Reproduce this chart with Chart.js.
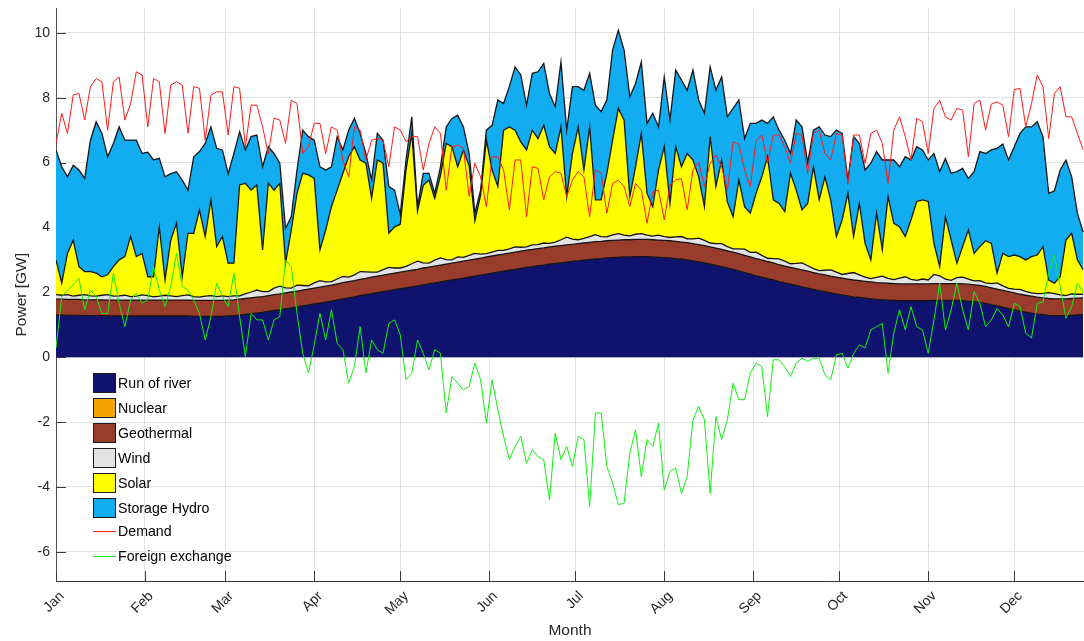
<!DOCTYPE html>
<html><head><meta charset="utf-8">
<script src="https://cdn.jsdelivr.net/npm/chart.js@4.4.1/dist/chart.umd.min.js"></script>
<style>
html,body{margin:0;padding:0;background:#fff;}
#wrap{position:relative;width:1084px;height:641px;overflow:hidden;}
#legend{position:absolute;left:93px;top:373px;font-family:'Liberation Sans',Arial,Helvetica,sans-serif;font-size:14.2px;color:#000;}
.row{position:absolute;left:0;height:20px;display:flex;align-items:center;white-space:nowrap;}
.sw{width:23px;height:20px;border:1px solid #1a1a1a;box-sizing:border-box;margin-right:2px;flex:none;}
.ln{width:23px;height:1px;margin-right:2px;flex:none;}
</style></head>
<body><div id="wrap">
<canvas id="c" width="1084" height="641"></canvas>
<div id="legend">
<div class="row" style="top:0px"><div class="sw" style="background:#10136e"></div>Run of river</div>
<div class="row" style="top:25px"><div class="sw" style="background:#f5a300"></div>Nuclear</div>
<div class="row" style="top:50px"><div class="sw" style="background:#9a3c2b"></div>Geothermal</div>
<div class="row" style="top:75px"><div class="sw" style="background:#e3e3e3"></div>Wind</div>
<div class="row" style="top:100px"><div class="sw" style="background:#ffff00"></div>Solar</div>
<div class="row" style="top:125px"><div class="sw" style="background:#11adf0"></div>Storage Hydro</div>
<div class="row" style="top:148px"><div class="ln" style="background:#ff1a1a"></div>Demand</div>
<div class="row" style="top:173px"><div class="ln" style="background:#10f010"></div>Foreign exchange</div>
</div>
</div>
<script>
const monthStarts = [0,31,59,90,120,151,181,212,243,273,304,334];
const monthLabels = ['Jan','Feb','Mar','Apr','May','Jun','Jul','Aug','Sep','Oct','Nov','Dec'];
const yTicks = [-6,-4,-2,0,2,4,6,8,10];
const days = []; for (let d = 0; d <= 358; d += 2) days.push(d);

const runOfRiver = [
1.30,1.30,1.29,1.29,1.29,1.28,1.28,1.28,1.28,1.27,1.27,1.27,1.27,1.27,1.27,1.27,1.27,1.27,1.27,1.27,1.27,1.27,1.27,1.27,1.26,1.26,1.26,1.26,1.26,1.26,
1.27,1.28,1.30,1.32,1.34,1.36,1.38,1.41,1.44,1.46,1.49,1.52,1.55,1.58,1.61,1.64,1.67,1.70,1.73,1.77,1.80,1.83,1.86,1.90,1.93,1.96,1.99,2.02,2.05,2.08,
2.11,2.14,2.17,2.20,2.23,2.26,2.29,2.32,2.35,2.38,2.41,2.44,2.47,2.50,2.53,2.56,2.59,2.62,2.65,2.68,2.71,2.74,2.77,2.79,2.82,2.84,2.87,2.89,2.91,2.93,
2.95,2.97,2.99,3.01,3.03,3.04,3.06,3.07,3.08,3.09,3.09,3.10,3.10,3.10,3.09,3.08,3.07,3.06,3.04,3.02,3.00,2.97,2.94,2.91,2.87,2.83,2.79,2.75,2.71,2.66,
2.61,2.56,2.51,2.47,2.42,2.38,2.33,2.29,2.25,2.21,2.17,2.13,2.09,2.05,2.02,1.98,1.95,1.92,1.89,1.86,1.84,1.82,1.80,1.78,1.77,1.76,1.75,1.74,1.74,1.74,
1.74,1.74,1.74,1.75,1.75,1.75,1.75,1.75,1.74,1.73,1.71,1.69,1.66,1.62,1.58,1.54,1.50,1.46,1.42,1.39,1.36,1.33,1.31,1.29,1.28,1.28,1.28,1.29,1.30,1.31];

const nuclear = days.map(() => 0);

const geothermal = [
0.49,0.49,0.49,0.49,0.49,0.49,0.49,0.49,0.49,0.49,0.49,0.49,0.49,0.49,0.49,0.49,0.49,0.49,0.49,0.49,0.49,0.49,0.49,0.49,0.49,
0.49,0.49,0.49,0.49,0.49,0.49,0.49,0.49,0.49,0.49,0.49,0.49,0.49,0.49,0.49,0.49,0.49,0.49,0.49,0.49,0.49,0.49,0.49,0.49,0.49,
0.50,0.50,0.50,0.50,0.50,0.51,0.51,0.51,0.51,0.51,0.51,0.51,0.51,0.51,
0.52,0.52,0.52,0.52,0.52,0.52,0.52,0.52,0.52,0.52,0.52,
0.53,0.53,0.53,0.53,0.53,0.53,0.53,0.53,0.53,0.53,0.53,0.53,0.53,0.53,0.53,0.53,0.53,0.53,0.53,0.53,0.53,0.53,0.53,0.53,0.53,0.53,
0.53,0.53,0.53,0.53,0.53,0.53,0.53,0.53,0.53,0.53,0.53,0.53,0.53,0.53,0.53,0.53,0.53,0.53,0.53,0.53,0.53,0.53,0.53,0.53,0.53,
0.52,0.52,0.52,0.52,0.52,0.52,0.52,0.52,0.52,0.52,0.52,0.52,0.52,0.52,0.52,0.52,0.52,0.52,0.52,0.52,0.52,0.52,0.52,0.52,0.52,0.52,0.52,
0.52,0.52,0.52,0.52,0.52,0.52,0.52,0.52,0.52,0.52,0.52,0.52,0.52,0.52,0.52,0.52,0.52,0.52,0.52,0.52,0.52,0.52,0.52,0.52,0.52,0.52,0.52];

const wind = [
0.14,0.12,0.15,0.10,0.13,0.16,0.12,0.11,0.14,0.17,0.12,0.13,0.15,0.11,0.12,0.16,0.14,0.10,0.12,0.15,0.13,0.11,0.14,0.16,0.12,0.10,0.13,0.15,0.12,0.14,0.11,
0.12,0.10,0.14,0.18,0.22,0.15,0.12,0.20,0.24,0.16,0.12,0.18,0.14,0.10,0.16,0.20,0.13,0.11,0.15,0.19,0.14,0.18,0.24,0.20,0.15,0.12,0.17,0.21,0.16,0.13,
0.15,0.20,0.25,0.16,0.12,0.18,0.22,0.14,0.10,0.16,0.12,0.15,0.18,0.13,0.10,0.12,0.14,0.11,0.13,0.16,0.12,0.10,0.14,0.12,0.15,0.11,0.13,0.18,0.24,0.16,0.12,
0.14,0.18,0.22,0.15,0.12,0.17,0.20,0.14,0.12,0.16,0.18,0.13,0.11,0.15,0.12,0.10,0.14,0.17,0.12,0.15,0.20,0.16,0.12,0.14,0.18,0.13,0.10,0.15,0.19,0.14,
0.20,0.14,0.10,0.13,0.18,0.15,0.11,0.16,0.22,0.17,0.12,0.10,0.14,0.19,0.15,0.11,0.17,0.23,0.18,0.13,0.10,0.16,0.21,0.15,0.12,0.18,0.22,0.14,0.11,0.15,0.12,
0.28,0.24,0.14,0.10,0.18,0.21,0.16,0.12,0.15,0.11,0.13,0.19,0.14,0.10,0.12,0.15,0.12,0.10,0.11,0.14,0.18,0.16,0.12,0.10,0.14,0.12,0.11];

const solar = [
1.07,0.37,1.27,1.73,0.88,0.71,0.75,0.71,0.57,0.61,0.91,1.11,1.19,1.85,1.22,1.28,0.58,0.62,2.14,0.47,1.72,2.26,0.58,1.90,1.95,2.69,1.84,2.95,1.54,1.83,1.03,
1.01,3.42,3.41,3.14,3.24,1.29,3.34,3.02,3.17,0.76,1.79,2.83,3.46,3.42,3.22,0.95,1.60,2.31,2.74,3.18,3.71,3.95,3.44,3.35,2.28,3.46,3.28,1.05,1.27,1.35,
2.97,4.02,1.54,2.39,2.56,1.91,2.54,3.58,3.49,2.78,3.31,2.76,1.00,1.82,3.51,2.53,1.97,3.71,3.76,3.60,3.25,2.99,3.54,3.27,3.63,2.98,2.73,3.48,1.25,2.64,3.48,
2.11,3.38,1.07,1.13,1.96,2.92,3.86,3.55,1.21,2.08,3.09,1.29,0.91,2.01,2.77,1.05,2.78,2.15,2.63,2.43,1.89,1.04,3.28,1.76,2.58,1.38,0.99,2.12,1.31,1.21,
1.81,2.42,3.13,1.81,1.71,1.53,2.79,2.26,1.63,1.92,3.14,2.18,2.88,2.16,1.10,1.68,2.47,1.11,2.20,1.04,0.58,1.98,0.81,2.52,1.74,1.58,1.24,1.83,2.43,2.44,2.42,
0.96,0.28,1.92,1.24,0.45,0.94,1.51,0.85,1.05,1.30,1.24,0.30,1.00,0.98,1.05,1.01,0.97,1.12,1.19,1.44,0.39,0.32,0.56,1.71,1.87,1.06,0.76];

const storageHydro = [
3.39,3.59,2.36,2.31,2.98,2.87,4.05,4.67,4.42,3.64,3.80,4.10,3.59,2.97,3.59,3.08,3.84,3.60,2.11,3.18,2.05,1.59,2.98,1.33,2.36,1.80,2.87,2.25,3.03,2.67,2.76,
3.38,1.64,1.03,1.65,1.54,2.56,1.13,1.13,0.62,1.07,0.41,0.72,1.33,1.18,1.18,2.56,1.85,1.23,1.65,0.72,0.82,0.87,0.82,0.30,0.56,0.82,0.71,1.44,1.13,0.30,
0.31,0.51,0.14,0.37,0.21,0.15,0.27,0.51,0.87,1.59,0.71,0.38,0.24,0.15,0.30,1.38,2.67,0.82,1.24,1.95,2.06,1.38,1.75,2.06,1.91,1.64,1.44,2.00,2.05,2.06,1.24,
2.46,1.65,2.92,2.72,2.26,2.78,2.41,2.16,3.08,2.57,2.20,2.16,2.88,1.33,2.15,2.57,2.36,2.67,1.95,2.77,2.37,2.88,2.15,2.97,2.56,2.62,3.34,2.47,2.10,2.77,
2.16,1.75,1.03,2.56,2.26,2.20,0.61,2.16,2.56,1.26,1.13,2.25,1.29,1.95,3.28,2.67,0.41,3.08,1.85,2.26,2.98,1.90,2.77,1.13,1.95,1.85,2.46,1.85,1.69,1.54,1.28,
2.77,2.93,1.80,2.06,2.82,2.41,1.59,2.52,2.93,2.69,2.88,3.85,3.37,2.98,3.34,3.80,4.10,4.00,4.11,3.39,2.67,2.85,3.29,2.47,1.74,1.44,1.15];

const demand = [
6.59,7.52,6.90,8.08,8.13,7.31,8.34,8.59,8.49,7.00,8.49,8.64,7.31,7.82,8.80,8.70,7.10,8.59,8.49,6.90,8.39,8.49,8.39,6.90,8.34,8.29,6.70,8.08,8.18,8.18,6.85,
8.34,8.29,6.49,7.77,7.77,7.10,6.28,7.37,7.31,6.59,7.92,7.82,6.28,6.49,7.21,7.21,6.28,7.10,7.00,6.08,5.56,7.10,7.00,6.08,6.69,6.74,6.69,5.87,7.10,7.00,
6.64,6.80,6.80,5.77,6.59,7.10,6.90,5.15,6.49,6.54,6.44,4.95,5.98,5.56,4.64,6.18,6.18,5.77,4.54,6.08,6.08,4.33,5.87,5.82,4.85,5.56,5.72,5.67,4.95,5.46,5.72,
5.56,4.33,5.77,5.67,4.44,5.36,5.46,5.26,4.64,5.36,5.15,4.13,5.10,5.15,4.23,5.31,5.46,5.51,4.54,5.77,6.00,5.26,5.98,6.23,5.87,5.15,6.64,6.57,5.77,5.26,
6.67,6.85,5.98,6.85,6.85,6.49,5.98,6.90,6.85,5.67,6.90,7.00,6.28,6.08,6.90,6.85,5.36,6.85,6.85,5.98,6.90,7.00,6.59,5.36,7.00,7.41,6.80,6.08,7.36,7.26,6.28,
7.67,7.92,7.41,7.31,7.67,7.62,6.18,7.82,7.93,7.00,7.80,7.87,7.77,6.80,8.25,8.29,7.10,7.82,8.70,8.34,6.74,8.13,8.34,7.41,7.41,6.90,6.40];

const foreignExchange = [
0.28,1.87,2.07,2.23,2.43,1.46,2.07,1.87,1.35,1.35,2.59,1.66,0.94,1.77,1.97,1.66,1.77,2.79,2.07,1.56,2.18,3.20,2.18,2.07,1.77,1.35,0.53,1.25,2.28,1.87,1.56,
2.59,1.25,0.02,1.35,1.15,1.15,0.53,1.15,1.25,3.00,2.79,1.35,0.12,-0.49,0.38,1.35,0.53,1.46,0.43,0.23,-0.80,-0.29,0.94,-0.49,0.53,0.23,0.12,1.04,1.15,0.69,
-0.70,-0.49,0.53,0.12,-0.39,0.23,0.12,-1.72,-0.60,-0.80,-1.01,-0.90,-0.18,-0.70,-2.03,-0.70,-1.62,-2.44,-3.16,-2.75,-2.44,-3.27,-2.85,-3.06,-3.16,-4.40,-2.34,-3.16,-2.75,-3.37,-2.44,
-2.54,-4.60,-1.72,-1.72,-3.37,-3.88,-4.55,-4.50,-2.96,-2.24,-3.68,-2.54,-2.75,-2.03,-4.10,-3.52,-3.42,-4.20,-3.68,-1.93,-1.52,-1.93,-4.20,-1.83,-2.54,-1.93,-0.80,-1.31,-1.31,-0.49,
-0.18,-0.29,-1.83,-0.08,-0.08,-0.29,-0.60,-0.18,-0.03,-0.13,-0.03,-0.03,-0.54,-0.70,0.07,0.12,-0.34,0.12,0.38,0.28,0.84,0.94,1.04,-0.49,0.74,1.46,0.84,1.56,0.94,0.84,0.12,
1.15,2.28,0.84,1.46,2.28,1.46,0.84,2.02,1.66,0.94,1.15,1.50,1.30,0.94,1.66,1.56,0.74,0.59,1.66,1.70,2.59,3.15,2.18,1.20,1.56,2.28,2.00];

const FONT = "'Liberation Sans', Arial, Helvetica, sans-serif";
Chart.defaults.font.family = FONT;
Chart.defaults.color = '#262626';

function area(label, data, color, fill, bw) {
  return {label, data, backgroundColor: color, borderColor: '#151515', borderWidth: bw,
    fill, stack: 'gen', order: 10, pointRadius: 0, tension: 0};
}

const inwardTicks = {
  id: 'inwardTicks',
  beforeDatasetsDraw(chart) {
    const {ctx, chartArea: a, scales: {x, y}} = chart;
    ctx.save();
    ctx.strokeStyle = '#3a3a3a'; ctx.lineWidth = 1;
    ctx.beginPath();
    x.ticks.forEach(t => { const px = Math.round(x.getPixelForValue(t.value)) + 0.5; ctx.moveTo(px, a.bottom); ctx.lineTo(px, a.bottom - 10); });
    y.ticks.forEach(t => { const py = Math.round(y.getPixelForValue(t.value)) + 0.5; ctx.moveTo(a.left, py); ctx.lineTo(a.left + 10, py); });
    ctx.stroke();
    ctx.restore();
  }
};

new Chart(document.getElementById('c'), {
  type: 'line',
  data: {
    labels: days,
    datasets: [
      area('Run of river', runOfRiver, '#10136e', 'origin', 1.3),
      area('Nuclear', nuclear, '#f5a300', '-1', 0),
      area('Geothermal', geothermal, '#9a3c2b', '-1', 1.3),
      area('Wind', wind, '#e3e3e3', '-1', 1.3),
      area('Solar', solar, '#ffff00', '-1', 1.3),
      area('Storage Hydro', storageHydro, '#11adf0', '-1', 1.3),
      {label: 'Demand', data: demand, borderColor: '#ff1a1a', borderWidth: 1, fill: false, stack: 'd', order: 1, pointRadius: 0, tension: 0},
      {label: 'Foreign exchange', data: foreignExchange, borderColor: '#10f010', borderWidth: 1, fill: false, stack: 'f', order: 0, pointRadius: 0, tension: 0}
    ]
  },
  options: {
    responsive: false,
    animation: false,
    devicePixelRatio: 1,
    events: [],
    layout: {padding: {top: 8.5, right: 0, bottom: 0, left: 0}},
    plugins: {legend: {display: false}, tooltip: {enabled: false}},
    scales: {
      x: {
        type: 'linear', min: 0, max: 358.3,
        afterBuildTicks: s => { s.ticks = monthStarts.map(v => ({value: v})); },
        afterFit: s => { s.height = 60; s.paddingRight = 0; s.paddingLeft = 0; },
        ticks: {autoSkip: false, minRotation: 45, maxRotation: 45, padding: 7, labelOffset: 6,
          font: {size: 14}, color: '#262626',
          callback: v => { const i = monthStarts.indexOf(v); return i >= 0 ? monthLabels[i] : ''; }},
        grid: {color: '#e2e2e2', lineWidth: 1, drawTicks: false},
        border: {display: true, color: '#333333', width: 1},
        title: {display: true, text: 'Month', font: {size: 15.5}, color: '#262626', padding: {top: 0, bottom: 1}}
      },
      y: {
        type: 'linear', stacked: true, min: -6.9, max: 10.75,
        afterBuildTicks: s => { s.ticks = yTicks.map(v => ({value: v})); },
        afterFit: s => { s.width = 56; s.paddingTop = 0; s.paddingBottom = 0; },
        ticks: {padding: 6, font: {size: 14}, color: '#262626'},
        grid: {color: '#e2e2e2', lineWidth: 1, drawTicks: false},
        border: {display: true, color: '#555555', width: 1},
        title: {display: true, text: 'Power [GW]', font: {size: 15.5}, color: '#262626', padding: {top: 12.5, bottom: 0}}
      }
    }
  },
  plugins: [inwardTicks]
});
</script>
</body></html>
